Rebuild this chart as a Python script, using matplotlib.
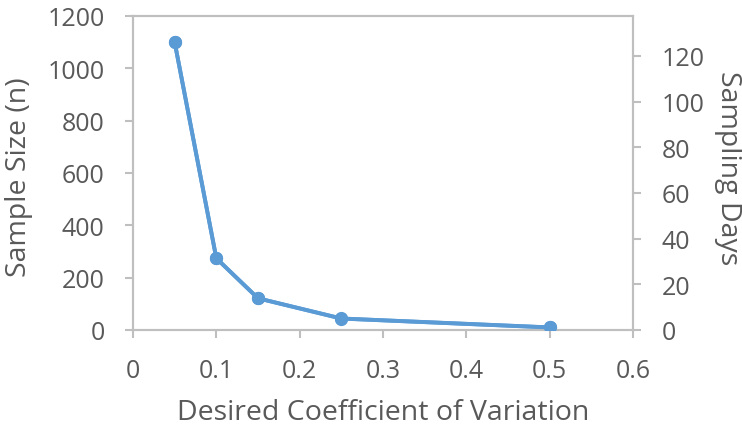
import matplotlib.pyplot as plt

# data
cv = [0.05, 0.1, 0.15, 0.25, 0.5]
sample_size = [1100, 274, 121, 44, 10]
sampling_days = [126, 31.4, 13.9, 5.0, 1.1]

blue = "#5B9BD5"
grey = "#BFBFBF"
text_col = "#595959"

plt.rcParams['font.family'] = ['Open Sans', 'DejaVu Sans']

fig = plt.figure(figsize=(7.42, 4.31), dpi=100)
ax = fig.add_axes([133/742, 100/431, 500/742, 314/431])
ax2 = ax.twinx()

ax.plot(cv, sample_size, color=blue, lw=2.8, marker='o', ms=8.5, zorder=3)
ax2.plot(cv, sampling_days, color=blue, lw=2.8, marker='o', ms=8.5, zorder=3)

ax.set_xlim(0, 0.6)
ax.set_ylim(0, 1200)
ax2.set_ylim(0, 137.5)
ax.set_xticks([0, 0.1, 0.2, 0.3, 0.4, 0.5, 0.6])
ax.set_xticklabels(["0", "0.1", "0.2", "0.3", "0.4", "0.5", "0.6"])
ax.set_yticks(range(0, 1201, 200))
ax2.set_yticks(range(0, 121, 20))

for a in (ax, ax2):
    for s in a.spines.values():
        s.set_color(grey)
        s.set_linewidth(1.5)
    a.tick_params(colors=grey, labelcolor=text_col, labelsize=18,
                  length=5.5, width=1.5, direction='out', pad=15)
ax.tick_params(axis='x', pad=15)

ax.set_xlabel("Desired Coefficient of Variation", fontsize=20.5, color=text_col, va='center')
ax.xaxis.set_label_coords(0.5, -0.262)
ax.set_ylabel("Sample Size (n)", fontsize=20.5, color=text_col, va='center')
ax.yaxis.set_label_coords(-0.228, 0.49)
ax2.set_ylabel("Sampling Days", fontsize=20.5, color=text_col, rotation=270, va='center')
ax2.yaxis.set_label_coords(1.19, 0.52)

fig.savefig("out.png", dpi=100)
